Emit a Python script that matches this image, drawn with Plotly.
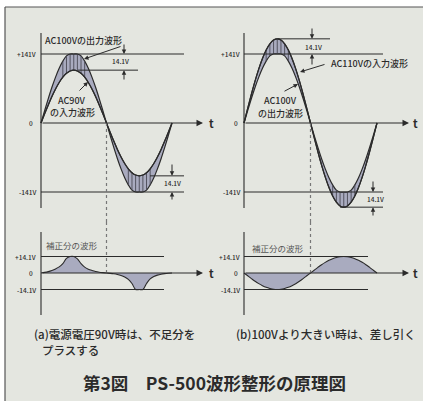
import plotly.graph_objects as go

# ---------------- data ----------------
deg = list(range(0, 361, 10))  # phase grid, degrees

# (a) AC90V input and AC100V output (scale: +141V = peak of 100V output)
input_90 = [0, 18.8, 36.9, 54.0, 69.4, 82.7, 93.5, 101.5, 106.4, 108.0, 106.4, 101.5, 93.5, 82.7, 69.4, 54.0, 36.9, 18.8, 0,
            -18.8, -36.9, -54.0, -69.4, -82.7, -93.5, -101.5, -106.4, -108.0, -106.4, -101.5, -93.5, -82.7, -69.4, -54.0, -36.9, -18.8, 0]
output_a = [0, 25.3, 49.9, 73.0, 93.8, 111.8, 126.4, 137.2, 141, 141, 141, 137.2, 126.4, 111.8, 93.8, 73.0, 49.9, 25.3, 0,
            -25.3, -49.9, -73.0, -93.8, -111.8, -126.4, -137.2, -141, -141, -141, -137.2, -126.4, -111.8, -93.8, -73.0, -49.9, -25.3, 0]
# (b) AC110V input and AC100V output
input_110 = [0, 29.9, 58.8, 86.0, 110.6, 131.8, 149.0, 161.6, 169.4, 172.0, 169.4, 161.6, 149.0, 131.8, 110.6, 86.0, 58.8, 29.9, 0,
             -29.9, -58.8, -86.0, -110.6, -131.8, -149.0, -161.6, -169.4, -172.0, -169.4, -161.6, -149.0, -131.8, -110.6, -86.0, -58.8, -29.9, 0]
output_b = [0, 25.3, 49.9, 73.0, 93.8, 111.8, 126.4, 137.2, 141, 141, 141, 137.2, 126.4, 111.8, 93.8, 73.0, 49.9, 25.3, 0,
            -25.3, -49.9, -73.0, -93.8, -111.8, -126.4, -137.2, -141, -141, -141, -137.2, -126.4, -111.8, -93.8, -73.0, -49.9, -25.3, 0]
# correction waveforms (scale: +14.1V)
corr_a = [0, 0.5, 1.2, 2.2, 3.5, 5.2, 8.0, 12.5, 14.1, 14.1, 12.0, 8.0, 5.0, 3.3, 2.2, 1.3, 0.7, 0.3, 0,
          -0.3, -0.7, -1.3, -2.2, -3.5, -5.5, -9.0, -14.1, -14.1, -14.1, -9.0, -5.0, -3.0, -1.8, -1.0, -0.5, -0.2, 0]
corr_b = [0, -2.4, -4.8, -7.1, -9.1, -10.8, -12.2, -13.2, -13.9, -14.1, -13.9, -13.2, -12.2, -10.8, -9.1, -7.1, -4.8, -2.4, 0,
          2.4, 4.8, 7.1, 9.1, 10.8, 12.2, 13.2, 13.9, 14.1, 13.9, 13.2, 12.2, 10.8, 9.1, 7.1, 4.8, 2.4, 0]

out_peak = 141
in_peak_a = 108
in_peak_b = 172
corr_peak = 14.1
top_tick_text = ["+141V", "0", "-141V"]
top_tick_vals = [141, 0, -141]
bot_tick_text = ["+14.1V", "0", "-14.1V"]
bot_tick_vals = [14.1, 0, -14.1]
hatch_ranges = [(60, 120), (240, 300)]

# ---------------- geometry ----------------
W, H = 423, 401
FONT = "Noto Sans CJK JP"
INK = "#2b2b2b"
FILL = "#a9abbf"
BG = "#e4e6e0"

panels = {
    "at": dict(ax="x", ay="y", ox=41, sx=131 / 360, oy=123, sy=69 / 141, xpx=(8, 214), ypx=(25, 222)),
    "bt": dict(ax="x2", ay="y2", ox=244, sx=133 / 360, oy=123, sy=69 / 141, xpx=(216, 423), ypx=(25, 222)),
    "ab": dict(ax="x3", ay="y3", ox=41, sx=131 / 360, oy=273, sy=16.5 / 14.1, xpx=(8, 214), ypx=(222, 322)),
    "bb": dict(ax="x4", ay="y4", ox=244, sx=133 / 360, oy=273, sy=16.5 / 14.1, xpx=(216, 423), ypx=(222, 322)),
}


def X(p, px):
    g = panels[p]
    return (px - g["ox"]) / g["sx"]


def Y(p, py):
    g = panels[p]
    return (g["oy"] - py) / g["sy"]


fig = go.Figure()
shapes = []
annots = []


def line(p, x0, y0, x1, y1, color=INK, width=1, dash="solid"):
    g = panels[p]
    shapes.append(dict(type="line", xref=g["ax"], yref=g["ay"], x0=x0, y0=y0, x1=x1, y1=y1,
                       line=dict(color=color, width=width, dash=dash), layer="above"))


def arrow(p, x0, y0, x1, y1, size=1.0, width=1, head=2):
    g = panels[p]
    annots.append(dict(xref=g["ax"], yref=g["ay"], axref=g["ax"], ayref=g["ay"], x=x1, y=y1, ax=x0, ay=y0,
                       text="", showarrow=True, arrowhead=head, arrowsize=size, arrowwidth=width,
                       arrowcolor=INK, standoff=0, startstandoff=0))


def text(p, x, y, s, size=9, xanchor="center", color=INK, weight=500):
    g = panels[p]
    annots.append(dict(xref=g["ax"], yref=g["ay"], x=x, y=y, text=s, showarrow=False, xanchor=xanchor,
                       yanchor="middle", font=dict(family=FONT, size=size, color=color, weight=weight)))


def add_band(p, inp, out):
    g = panels[p]
    kw = dict(xaxis=g["ax"], yaxis=g["ay"], showlegend=False, hoverinfo="skip")
    fig.add_trace(go.Scatter(x=deg, y=inp, mode="lines", line=dict(color=INK, width=1.2, shape="spline"), **kw))
    fig.add_trace(go.Scatter(x=deg, y=out, mode="lines", fill="tonexty", fillcolor=FILL,
                             line=dict(color=INK, width=1.2, shape="spline"), **kw))
    hx, hy = [], []
    for d, a, b in zip(deg, inp, out):
        if any(lo <= d <= hi for lo, hi in hatch_ranges):
            hx += [d, d, None]
            hy += [a, b, None]
    fig.add_trace(go.Scatter(x=hx, y=hy, mode="lines", line=dict(color="#4a4a55", width=0.9), **kw))
    fig.add_trace(go.Scatter(x=deg, y=inp, mode="lines", line=dict(color=INK, width=1.2, shape="spline"), **kw))


def add_corr(p, vals):
    g = panels[p]
    fig.add_trace(go.Scatter(x=deg, y=vals, mode="lines", fill="tozeroy", fillcolor=FILL,
                             line=dict(color=INK, width=1.1, shape="spline"),
                             xaxis=g["ax"], yaxis=g["ay"], showlegend=False, hoverinfo="skip"))


add_band("at", input_90, output_a)
add_band("bt", input_110, output_b)
add_corr("ab", corr_a)
add_corr("bb", corr_b)

# ---- axes, ticks, reference lines ----
for p, lbl_px, zero_px, t_px, ref_end, arr_end, ax_top, ax_bot, ticks, tvals in [
    ("at", 38, 35, 211, 184, 203, 33, 208, top_tick_text, top_tick_vals),
    ("bt", 242, 240, 415, 383, 409, 33, 208, top_tick_text, top_tick_vals),
    ("ab", 38, 35, 211, 164, 203, 232, 315, bot_tick_text, bot_tick_vals),
    ("bb", 242, 240, 415, 368, 409, 232, 315, bot_tick_text, bot_tick_vals),
]:
    line(p, 0, Y(p, ax_bot), 0, Y(p, ax_top), width=1.1)
    arrow(p, 0, 0, X(p, arr_end), 0, size=1.3, width=1)
    text(p, X(p, t_px), 0, "t", size=11, weight="bold")
    for s, v in zip(ticks, tvals):
        if v == 0:
            text(p, X(p, zero_px), v, s, size=6.5, xanchor="right")
        else:
            text(p, X(p, lbl_px), v, s, size=6.5, xanchor="right")
            line(p, 0, v, X(p, ref_end), v, width=1)

# dotted lines through the zero crossing
for pt, pb in [("at", "ab"), ("bt", "bb")]:
    line(pt, 180, 0, 180, Y(pt, 222), color="#777", width=1.2, dash="dot")
    line(pb, 180, Y(pb, 222), 180, 0, color="#777", width=1.2, dash="dot")

# ---- panel (a) annotations ----
line("at", X("at", 78), in_peak_a, X("at", 138), in_peak_a)
line("at", X("at", 150), -in_peak_a, X("at", 184), -in_peak_a)
xa = X("at", 124)
arrow("at", xa, Y("at", 43), xa, out_peak, size=0.9)
arrow("at", xa, Y("at", 81), xa, in_peak_a, size=0.9)
text("at", X("at", 120), Y("at", 61), "14.1V", size=6.5)
xa = X("at", 172)
arrow("at", xa, Y("at", 163), xa, -in_peak_a, size=0.9)
arrow("at", xa, Y("at", 201), xa, -out_peak, size=0.9)
text("at", X("at", 172), Y("at", 183), "14.1V", size=6.5)
text("at", X("at", 83), Y("at", 40), "AC100Vの出力波形", size=9)
arrow("at", X("at", 122), Y("at", 46), X("at", 84), Y("at", 59), size=0.9)
text("at", X("at", 72), Y("at", 100), "AC90V", size=9)
text("at", X("at", 72), Y("at", 112), "の入力波形", size=9)
arrow("at", X("at", 78), Y("at", 92), X("at", 88), Y("at", 82), size=0.9)
text("ab", X("ab", 72), Y("ab", 245), "補正分の波形", size=8.5, color="#555", weight="normal")

# ---- panel (b) annotations ----
line("bt", X("bt", 278), in_peak_b, X("bt", 330), in_peak_b)
line("bt", X("bt", 340), -in_peak_b, X("bt", 383), -in_peak_b)
xb = X("bt", 312)
arrow("bt", xb, Y("bt", 27), xb, in_peak_b, size=0.9)
arrow("bt", xb, Y("bt", 66), xb, out_peak, size=0.9)
text("bt", X("bt", 313), Y("bt", 47), "14.1V", size=6.5)
xb = X("bt", 373)
arrow("bt", xb, Y("bt", 180), xb, -out_peak, size=0.9)
arrow("bt", xb, Y("bt", 217), xb, -in_peak_b, size=0.9)
text("bt", X("bt", 375), Y("bt", 199), "14.1V", size=6.5)
text("bt", X("bt", 369), Y("bt", 63), "AC110Vの入力波形", size=9)
arrow("bt", X("bt", 326), Y("bt", 64), X("bt", 300), Y("bt", 72), size=0.9)
text("bt", X("bt", 280), Y("bt", 100), "AC100V", size=9)
text("bt", X("bt", 280), Y("bt", 113), "の出力波形", size=9)
arrow("bt", X("bt", 283), Y("bt", 92), X("bt", 298), Y("bt", 84), size=0.9)
text("bb", X("bb", 278), Y("bb", 248), "補正分の波形", size=8.5, color="#555", weight="normal")

# ---- captions and title (paper coords) ----
def ptext(px, py, s, size, xanchor="left", weight=500):
    annots.append(dict(xref="paper", yref="paper", x=px / W, y=1 - py / H, text=s, showarrow=False,
                       xanchor=xanchor, yanchor="middle",
                       font=dict(family=FONT, size=size, color=INK, weight=weight)))


ptext(32, 334, "(a)電源電圧90V時は、不足分を", 11.5)
ptext(40, 350, "プラスする", 11.5)
ptext(234, 334, "(b)100Vより大きい時は、差し引く", 11.5)
ptext(215, 382, "第3図　PS-500波形整形の原理図", 17.5, xanchor="center", weight="bold")

# background and border
bg_shapes = [
    dict(type="rect", xref="paper", yref="paper", x0=5 / W, x1=1, y0=0, y1=1 - 7 / H,
         fillcolor=BG, line=dict(width=0), layer="below"),
    dict(type="line", xref="paper", yref="paper", x0=5 / W, x1=1, y0=1 - 7 / H, y1=1 - 7 / H,
         line=dict(color="#555", width=1.2), layer="below"),
    dict(type="line", xref="paper", yref="paper", x0=5 / W, x1=5 / W, y0=0, y1=1 - 7 / H,
         line=dict(color="#555", width=1.2), layer="below"),
]

layout_axes = {}
for key in panels:
    g = panels[key]
    xname = "xaxis" + g["ax"][1:]
    yname = "yaxis" + g["ay"][1:]
    layout_axes[xname] = dict(domain=[g["xpx"][0] / W, g["xpx"][1] / W],
                              range=[X(key, g["xpx"][0]), X(key, g["xpx"][1])],
                              visible=False, anchor=g["ay"], fixedrange=True)
    layout_axes[yname] = dict(domain=[1 - g["ypx"][1] / H, 1 - g["ypx"][0] / H],
                              range=[Y(key, g["ypx"][1]), Y(key, g["ypx"][0])],
                              visible=False, anchor=g["ax"], fixedrange=True)

fig.update_layout(width=W, height=H, autosize=False, margin=dict(l=0, r=0, t=0, b=0),
                  paper_bgcolor="white", plot_bgcolor="rgba(0,0,0,0)",
                  shapes=bg_shapes + shapes, annotations=annots, showlegend=False, **layout_axes)
fig.write_html("out.html", config={"displayModeBar": False},
               post_script="document.body.style.margin='0px';document.body.style.overflow='hidden';")
